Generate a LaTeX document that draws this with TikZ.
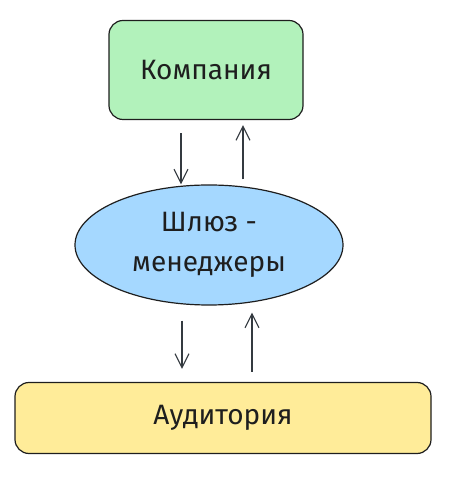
\documentclass[tikz,border=0pt]{standalone}
\usepackage{fontspec}
\setmainfont{Fira Sans}
\usetikzlibrary{arrows.meta}
\usetikzlibrary{shapes.geometric}
\definecolor{mgreen}{HTML}{B2F2BB}
\definecolor{mblue}{HTML}{A5D8FF}
\definecolor{myellow}{HTML}{FFEC99}
\definecolor{mink}{HTML}{1E1E1E}
\definecolor{marrow}{HTML}{343A40}
\tikzset{box/.style = {draw = mink, line width = 1.2pt, rounded corners = 14pt,
                       font = \fontsize{28}{40}\selectfont, text = mink},
         flow/.style = {draw = marrow, line width = 1.1pt,
                        -{Straight Barb[length = 14pt, width = 14pt]}}}

\begin{document}
\begin{tikzpicture}[x = 1pt, y = 1pt]
      \useasboundingbox (0, 0) rectangle (457, 479);
      \node [box, fill = mgreen, minimum width = 194pt, minimum height = 99pt] (comp) at (206, 409) {Компания};
      \node [box, ellipse, fill = mblue, minimum width = 268pt, minimum height = 120pt, align = center, inner sep = 0pt] (gate) at (209, 234) {Шлюз -\\менеджеры};
      \node [box, fill = myellow, minimum width = 416pt, minimum height = 71pt] (aud) at (223, 61) {Аудитория};
      \draw [flow] ([xshift = -25pt, yshift = -13pt]comp.south) -- ([xshift = -28pt]gate.north);
      \draw [flow] ([xshift = 34pt, yshift = 5pt]gate.north) -- ([xshift = 37pt, yshift = -5pt]comp.south);
      \draw [flow] ([xshift = -27pt, yshift = -15pt]gate.south) -- ([xshift = -41pt, yshift = 13pt]aud.north);
      \draw [flow] ([xshift = 29pt, yshift = 10pt]aud.north) -- ([xshift = 43pt, yshift = -7pt]gate.south);
    \end{tikzpicture}
\end{document}
